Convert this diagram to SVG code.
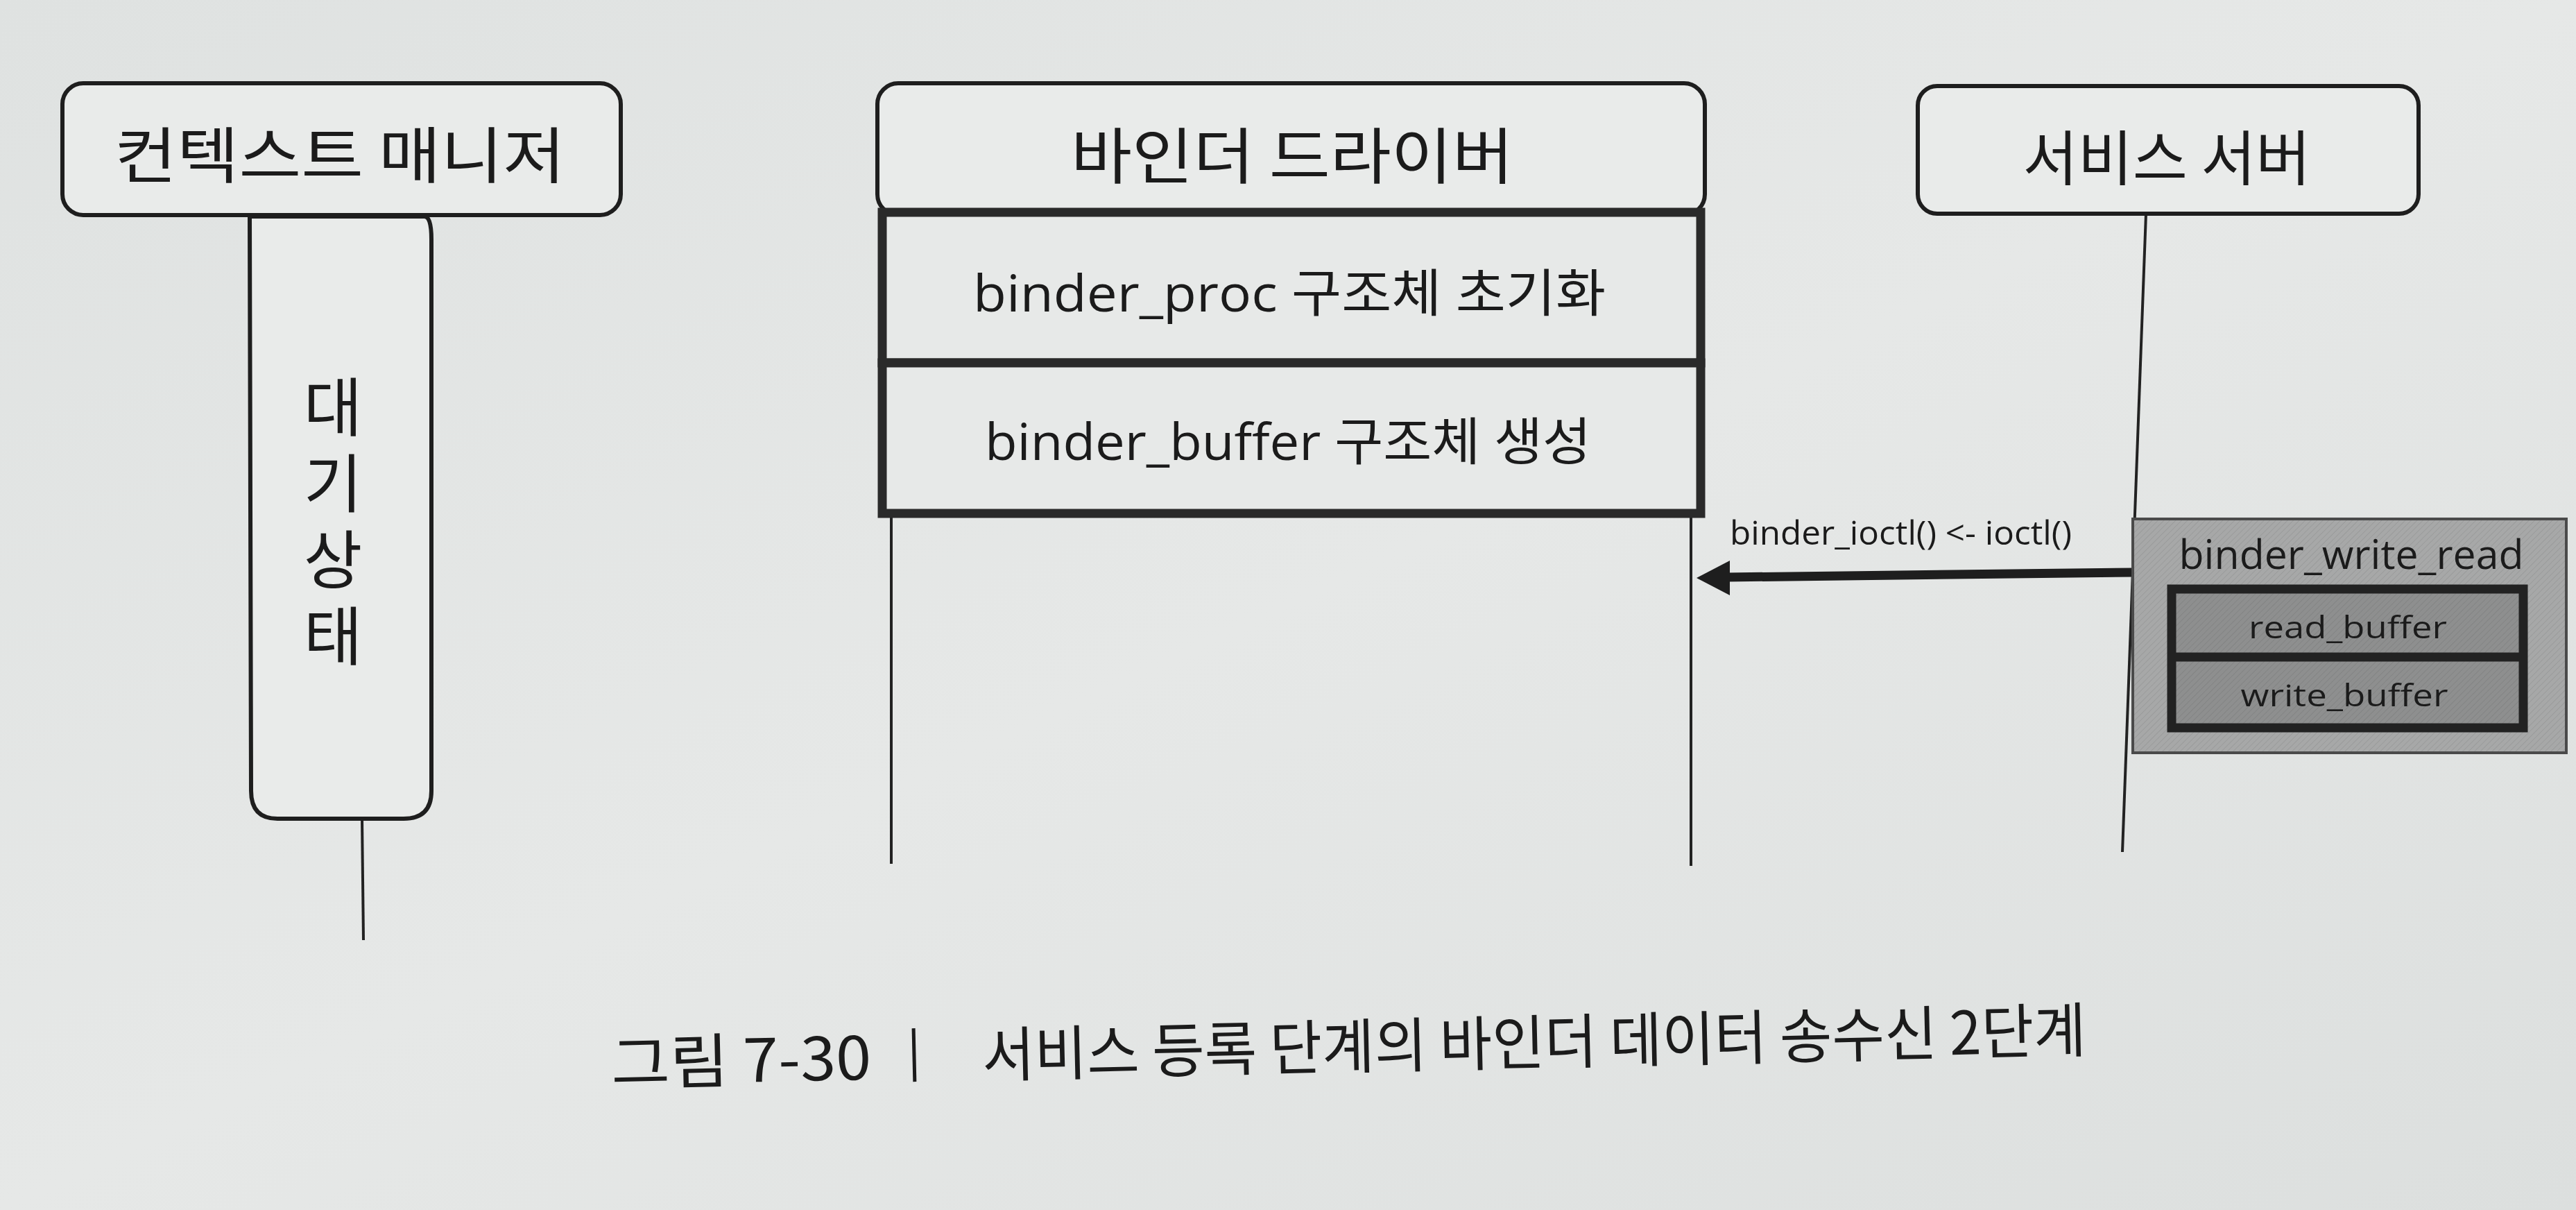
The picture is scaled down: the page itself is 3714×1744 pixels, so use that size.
<svg xmlns="http://www.w3.org/2000/svg" width="3714" height="1744" viewBox="0 0 3714 1744">
<defs>
<style>
.ko{font-family:"Noto Sans CJK KR","Noto Sans",sans-serif;fill:#1b1b1b}
.lat{font-family:"Open Sans","Noto Sans CJK KR",sans-serif;fill:#1b1b1b}
.hdr{fill:#e9ebea;stroke:#1e1e1e;stroke-width:6}
.thick{fill:#e7e9e8;stroke:#2a2a2a;stroke-width:13}
.life{stroke:#222;stroke-width:4;fill:none}
</style>
<pattern id="hatch" width="6" height="6" patternUnits="userSpaceOnUse" patternTransform="rotate(45)">
<rect width="6" height="6" fill="#a7a8a8"/>
<line x1="0" y1="0" x2="0" y2="6" stroke="#9a9b9b" stroke-width="2"/>
</pattern>
<pattern id="hatch2" width="6" height="6" patternUnits="userSpaceOnUse" patternTransform="rotate(45)">
<rect width="6" height="6" fill="#8e8f8f"/>
<line x1="0" y1="0" x2="0" y2="6" stroke="#838484" stroke-width="2"/>
</pattern>
<linearGradient id="paper" x1="0" y1="0" x2="1" y2="1">
<stop offset="0" stop-color="#dfe2e1"/>
<stop offset="0.5" stop-color="#e6e8e7"/>
<stop offset="1" stop-color="#dcdfde"/>
</linearGradient>
</defs>
<rect width="3714" height="1744" fill="url(#paper)"/>

<g id="connectors">
<line class="life" x1="522" y1="1180" x2="524" y2="1355"/>
<line class="life" x1="1285" y1="740" x2="1285" y2="1245"/>
<line class="life" x1="2438" y1="740" x2="2438" y2="1248"/>
<line class="life" x1="3094" y1="308" x2="3060" y2="1228"/>
<line x1="3076" y1="825" x2="2488" y2="832" stroke="#1e1e1e" stroke-width="13"/>
<path d="M2446,833 L2494,808 L2494,858 Z" fill="#1e1e1e"/>
<text class="lat" x="2494" y="785" font-size="48" textLength="493" lengthAdjust="spacingAndGlyphs">binder_ioctl() &lt;- ioctl()</text>
</g>

<g id="context-manager">
<rect class="hdr" x="90" y="120" width="805" height="190" rx="30"/>
<text class="ko" x="490" y="256" font-size="88" text-anchor="middle" textLength="650" lengthAdjust="spacingAndGlyphs">컨텍스트 매니저</text>
</g>

<g id="waiting-state">
<path class="hdr" d="M360,312 L612,312 Q622,312 622,345 L622,1140 Q622,1180 582,1180 L400,1180 Q362,1180 362,1140 Z" stroke-width="5"/>
<text class="ko" x="480" y="540" font-size="92" writing-mode="vertical-rl" letter-spacing="18">대기상태</text>
</g>

<g id="binder-driver">
<rect class="hdr" x="1265" y="120" width="1193" height="190" rx="30"/>
<text class="ko" x="1863" y="257" font-size="88" text-anchor="middle" textLength="638" lengthAdjust="spacingAndGlyphs">바인더 드라이버</text>
</g>

<g id="binder-proc-init">
<rect class="thick" x="1272" y="306" width="1180" height="217"/>
<text class="lat" x="1859" y="449" font-size="74" text-anchor="middle" textLength="912" lengthAdjust="spacingAndGlyphs">binder_proc 구조체 초기화</text>
</g>

<g id="binder-buffer-create">
<rect class="thick" x="1272" y="523" width="1180" height="217"/>
<text class="lat" x="1857" y="663" font-size="74" text-anchor="middle" textLength="874" lengthAdjust="spacingAndGlyphs">binder_buffer 구조체 생성</text>
</g>

<g id="service-server">
<rect class="hdr" x="2765" y="124" width="722" height="184" rx="28"/>
<text class="ko" x="3124" y="260" font-size="86" text-anchor="middle" textLength="415" lengthAdjust="spacingAndGlyphs">서비스 서버</text>
</g>

<g id="binder-write-read">
<rect x="3075" y="748" width="625" height="337" fill="url(#hatch)" stroke="#4a4a4a" stroke-width="4"/>
<text class="lat" x="3390" y="820" font-size="58" text-anchor="middle" textLength="497" lengthAdjust="spacingAndGlyphs">binder_write_read</text>
<rect x="3131" y="849" width="507" height="200" fill="url(#hatch2)" stroke="#222" stroke-width="13"/>
<line x1="3131" y1="947" x2="3638" y2="947" stroke="#222" stroke-width="13"/>
<text class="lat" x="3385" y="920" font-size="44" text-anchor="middle" textLength="286" lengthAdjust="spacingAndGlyphs" fill="#262626">read_buffer</text>
<text class="lat" x="3380" y="1018" font-size="44" text-anchor="middle" textLength="299" lengthAdjust="spacingAndGlyphs" fill="#262626">write_buffer</text>
</g>

<g id="caption" transform="rotate(-1.3 1940 1515)">
<text class="ko" x="881" y="1540" font-size="86" textLength="375" lengthAdjust="spacingAndGlyphs">그림 7-30</text>
<line x1="1318" y1="1468" x2="1318" y2="1545" stroke="#1b1b1b" stroke-width="5"/>
<text class="ko" x="1416" y="1540" font-size="86" textLength="1592" lengthAdjust="spacingAndGlyphs">서비스 등록 단계의 바인더 데이터 송수신 2단계</text>
</g>
</svg>
